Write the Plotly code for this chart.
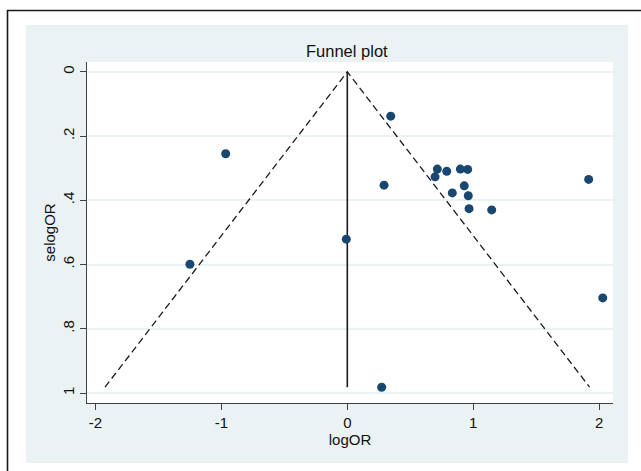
import plotly.graph_objects as go

# ---- data ----
logOR = [-0.966, -1.25, -0.008, 0.292, 0.345, 0.273,
         0.697, 0.715, 0.790, 0.834, 0.898, 0.929, 0.956, 0.961, 0.967,
         1.147, 1.917, 2.029]
selogOR = [0.255, 0.599, 0.521, 0.353, 0.138, 0.982,
           0.327, 0.303, 0.310, 0.377, 0.303, 0.355, 0.304, 0.386, 0.426,
           0.430, 0.335, 0.704]
pooled = 0.0
x_ticks = [-2, -1, 0, 1, 2]
y_ticks = [0, 0.2, 0.4, 0.6, 0.8, 1]
y_ticklabels = ["0", ".2", ".4", ".6", ".8", "1"]

# ---- figure geometry ----
W, H = 641, 471
ML, MR, MT, MB = 87, 28, 62, 68
PW, PH = W - ML - MR, H - MT - MB

def px(x):
    return (x - ML) / PW

def py(y):
    return (H - MB - y) / PH

FONT = "Arial, Liberation Sans, sans-serif"
NAVY = "#1a476f"
GRID = "#eaf2f3"

se_max = max(selogOR)
z = 1.96

fig = go.Figure()
# pseudo 95% CI funnel lines
fig.add_trace(go.Scatter(
    x=[pooled - z * se_max, pooled, pooled + z * se_max],
    y=[se_max, 0, se_max],
    mode="lines", line=dict(color="#1a1a1a", width=1.3, dash="7px,4px"),
    hoverinfo="skip", showlegend=False))
# pooled estimate line
fig.add_trace(go.Scatter(
    x=[pooled, pooled], y=[0, se_max],
    mode="lines", line=dict(color="#1a1a1a", width=1.6),
    hoverinfo="skip", showlegend=False))
# studies
fig.add_trace(go.Scatter(
    x=logOR, y=selogOR, mode="markers",
    marker=dict(color=NAVY, size=9, line=dict(width=0)),
    showlegend=False))

shapes = [
    # light blue graph region
    dict(type="rect", xref="paper", yref="paper",
         x0=px(26), x1=px(628), y0=py(463), y1=py(25),
         fillcolor=GRID, line=dict(width=0), layer="below"),
    # white plot region
    dict(type="rect", xref="paper", yref="paper",
         x0=0, x1=1, y0=0, y1=1,
         fillcolor="white", line=dict(width=0), layer="below"),
    # outer black border (top and left visible)
    dict(type="line", xref="paper", yref="paper",
         x0=px(7), x1=px(645), y0=py(10.5), y1=py(10.5),
         line=dict(color="#1a1a1a", width=1.6)),
    dict(type="line", xref="paper", yref="paper",
         x0=px(7.5), x1=px(7.5), y0=py(10), y1=py(475),
         line=dict(color="#1a1a1a", width=1.6)),
]

fig.update_layout(
    width=W, height=H,
    margin=dict(l=ML, r=MR, t=MT, b=MB, pad=0),
    paper_bgcolor="white", plot_bgcolor="white",
    font=dict(family=FONT, size=15, color="#111111"),
    shapes=shapes,
    annotations=[dict(text="Funnel plot", xref="x", yref="paper",
                      x=pooled, y=py(51), xanchor="center", yanchor="middle",
                      showarrow=False, font=dict(size=16.5, family=FONT, color="#111111"))],
    xaxis=dict(range=[(ML - 347.3) / 125.9, (ML + PW - 347.3) / 125.9],
               tickvals=x_ticks, ticktext=[str(v) for v in x_ticks],
               ticks="outside", ticklen=6, tickcolor="#404040", tickwidth=1,
               showline=True, linecolor="#404040", linewidth=1.2,
               showgrid=False, zeroline=False,
               tickfont=dict(size=15),
               title=dict(text="logOR", font=dict(size=15), standoff=1)),
    yaxis=dict(range=[(H - MB - 71.8) / 321.2, (MT - 71.8) / 321.2],
               tickvals=y_ticks, ticktext=y_ticklabels, tickangle=-90,
               ticks="outside", ticklen=6, tickcolor="#404040", tickwidth=1,
               showline=True, linecolor="#404040", linewidth=1.2,
               showgrid=True, gridcolor=GRID, gridwidth=1.5, zeroline=False,
               tickfont=dict(size=15),
               title=dict(text="selogOR", font=dict(size=15), standoff=0)),
)

fig.write_html("out.html")
